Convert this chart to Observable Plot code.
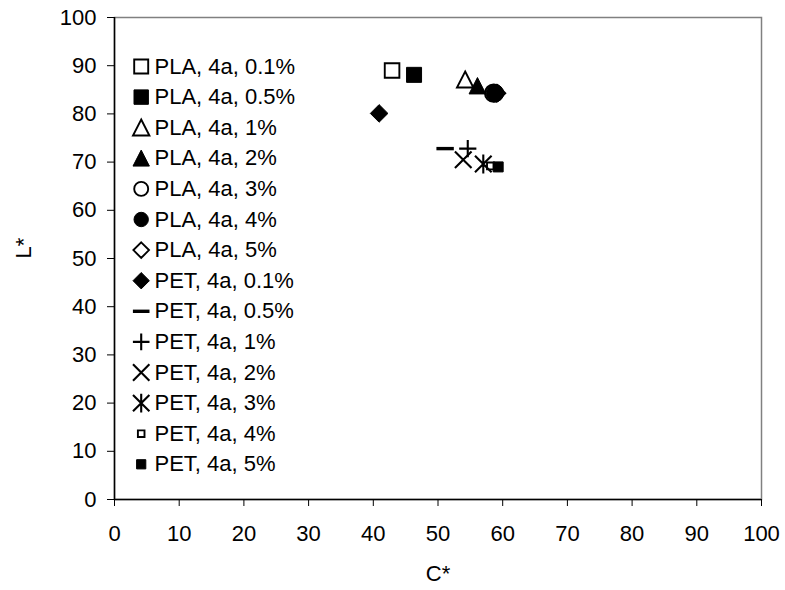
<!DOCTYPE html>
<html><head><meta charset="utf-8">
<script src="https://cdn.jsdelivr.net/npm/d3@7"></script>
<script src="https://cdn.jsdelivr.net/npm/@observablehq/plot@0.6"></script>
<style>body{margin:0;background:#fff;} #chart svg{display:block;}</style>
</head><body><div id="chart"></div>
<script>
// ---- data ----
const seriesNames = ["PLA, 4a, 0.1%", "PLA, 4a, 0.5%", "PLA, 4a, 1%", "PLA, 4a, 2%", "PLA, 4a, 3%", "PLA, 4a, 4%", "PLA, 4a, 5%",
                     "PET, 4a, 0.1%", "PET, 4a, 0.5%", "PET, 4a, 1%", "PET, 4a, 2%", "PET, 4a, 3%", "PET, 4a, 4%", "PET, 4a, 5%"];
const cValues = [42.9, 46.3, 54.2, 56.1, 58.6, 58.8, 59.1, 40.9, 51.1, 54.6, 53.9, 57.0, 58.1, 59.3];
const lValues = [89.0, 88.1, 87.1, 85.8, 84.3, 84.3, 84.3, 80.1, 72.8, 72.8, 70.5, 69.6, 69.2, 69.0];
const xTicks = [0, 10, 20, 30, 40, 50, 60, 70, 80, 90, 100];
const yTicks = [0, 10, 20, 30, 40, 50, 60, 70, 80, 90, 100];
const xLabel = "C*";
const yLabel = "L*";

// ---- marker styles ----
function sym(fn) { return {draw(ctx, size) { fn(ctx, Math.sqrt(size / Math.PI)); }}; }
const SYM = {
  square: sym((c, r) => { c.moveTo(-r, -r); c.lineTo(r, -r); c.lineTo(r, r); c.lineTo(-r, r); c.closePath(); }),
  triangle: sym((c, r) => { c.moveTo(0, -r); c.lineTo(r, r * 0.95); c.lineTo(-r, r * 0.95); c.closePath(); }),
  circle: sym((c, r) => { c.moveTo(r, 0); c.arc(0, 0, r, 0, 2 * Math.PI); c.closePath(); }),
  diamond: sym((c, r) => { c.moveTo(0, -r); c.lineTo(r, 0); c.lineTo(0, r); c.lineTo(-r, 0); c.closePath(); }),
  dash: sym((c, r) => { c.moveTo(-r, -1.7); c.lineTo(r, -1.7); c.lineTo(r, 1.7); c.lineTo(-r, 1.7); c.closePath(); }),
  plus: sym((c, r) => { c.moveTo(-r, 0); c.lineTo(r, 0); c.moveTo(0, -r); c.lineTo(0, r); }),
  times: sym((c, r) => { c.moveTo(-r, -r); c.lineTo(r, r); c.moveTo(r, -r); c.lineTo(-r, r); }),
  asterisk: sym((c, r) => { c.moveTo(-r, -r); c.lineTo(r, r); c.moveTo(r, -r); c.lineTo(-r, r); c.moveTo(0, -r * 1.15); c.lineTo(0, r * 1.15); })
};
// shape, filled?, plot radius, legend radius
const markerStyle = [
  ["square", false, 7.3, 7], ["square", true, 7.5, 7.2],
  ["triangle", false, 8.2, 8.2], ["triangle", true, 8.4, 8.2],
  ["circle", false, 8.7, 7], ["circle", true, 8.8, 7.2],
  ["diamond", false, 8.4, 7.8], ["diamond", true, 8.8, 8.2],
  ["dash", true, 8.7, 8.3], ["plus", false, 8.6, 8.3], ["times", false, 8.3, 8.2], ["asterisk", false, 8.3, 8.2],
  ["square", false, 3.4, 3.3], ["square", true, 5, 4.6]
];
function dotOpts(i, legend) {
  const [shape, filled, rp, rl] = markerStyle[i];
  const lineOnly = ["plus", "times", "asterisk"].includes(shape);
  return {
    symbol: SYM[shape],
    r: legend ? rl : rp,
    fill: filled ? "black" : "none",
    stroke: shape === "dash" ? "none" : "black",
    strokeWidth: lineOnly ? 2.1 : (filled ? 1 : 1.9)
  };
}

const FONT = "'Liberation Sans', Arial, sans-serif";
const FS = 22;
const legendTop = 49, legendStep = 30.6;

const marks = [
  Plot.frame({stroke: "#808080", strokeWidth: 1.5}),
  Plot.axisX({ticks: xTicks, tickSize: 7, tickPadding: 19, label: null, fontSize: FS, stroke: "black"}),
  Plot.axisY({ticks: yTicks, tickSize: 7, tickPadding: 11, label: null, fontSize: FS, stroke: "black"}),
  Plot.ruleX([0], {stroke: "black", strokeWidth: 1.5}),
  Plot.ruleY([0], {stroke: "black", strokeWidth: 1.5}),
  Plot.text([xLabel], {text: d => d, frameAnchor: "bottom", dy: 74, fontSize: FS, lineAnchor: "middle", fill: "black"}),
  Plot.text([yLabel], {text: d => d, frameAnchor: "left", dx: -91, dy: 0, rotate: -90, fontSize: FS, lineAnchor: "middle", fill: "black"})
];
seriesNames.forEach((name, i) => {
  marks.push(Plot.dot([i], {x: j => cValues[j], y: j => lValues[j], ...dotOpts(i, false)}));
});
seriesNames.forEach((name, i) => {
  marks.push(Plot.dot([i], {frameAnchor: "top-left", dx: 26.7, dy: legendTop + legendStep * i, ...dotOpts(i, true)}));
  marks.push(Plot.text([name], {text: d => d, frameAnchor: "top-left", dx: 40, dy: legendTop + legendStep * i,
    textAnchor: "start", lineAnchor: "middle", fontSize: FS, fill: "black"}));
});

const chart = Plot.plot({
  width: 785, height: 590,
  marginLeft: 114, marginRight: 24, marginTop: 17, marginBottom: 91,
  style: {fontFamily: FONT, fontSize: FS + "px", background: "white", color: "black"},
  x: {domain: [0, 100]},
  y: {domain: [0, 100]},
  marks
});
document.getElementById("chart").append(chart);
</script>
</body></html>
